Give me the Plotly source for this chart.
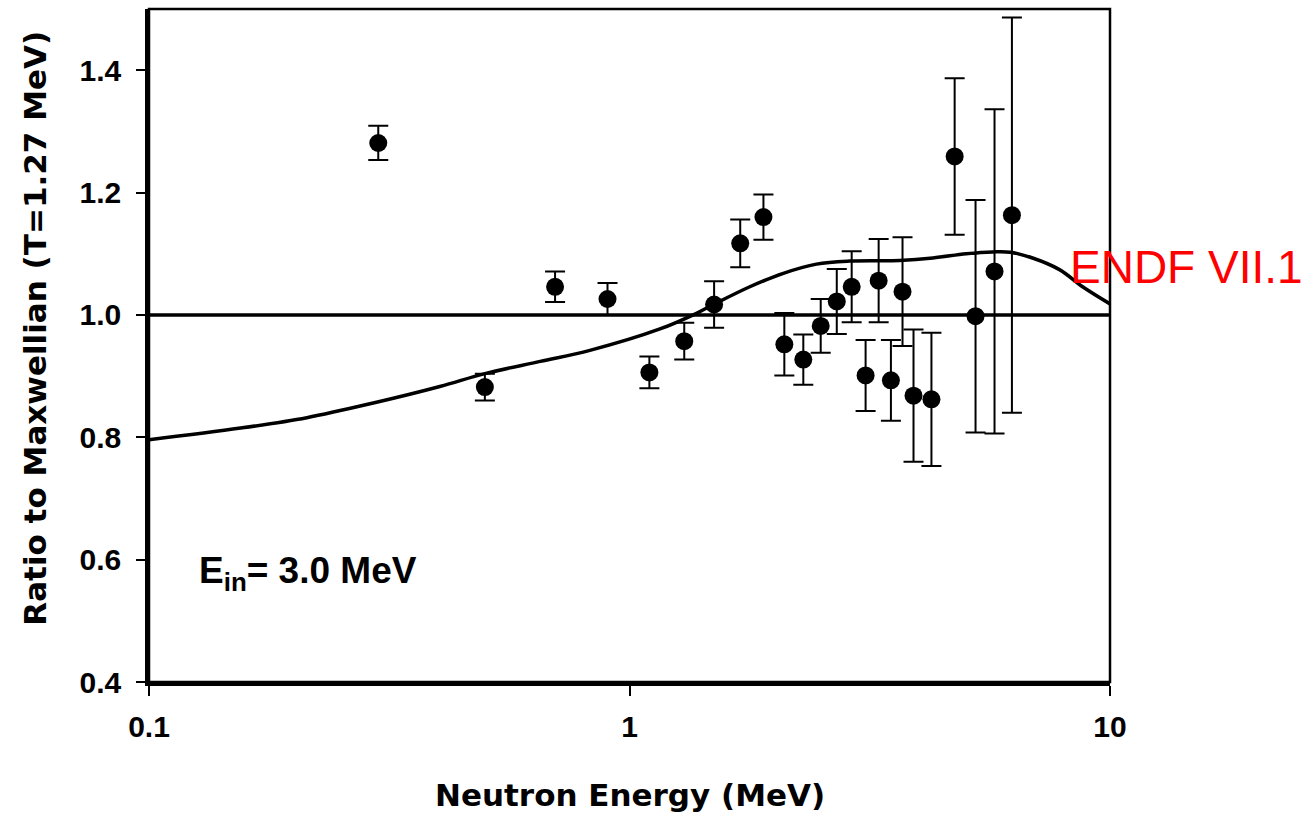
import plotly.graph_objects as go

# Measured data (Neutron energy in MeV, ratio to Maxwellian T=1.27 MeV)
energy = [0.3, 0.5, 0.7, 0.9, 1.1, 1.3, 1.5, 1.7, 1.9, 2.1, 2.3, 2.5, 2.7, 2.9,
          3.1, 3.3, 3.5, 3.7, 3.9, 4.25, 4.75, 5.25, 5.75, 6.25]
ratio = [1.281, 0.882, 1.046, 1.026, 0.906, 0.957, 1.017, 1.117, 1.160, 0.952,
         0.927, 0.982, 1.022, 1.046, 0.901, 1.056, 0.893, 1.038, 0.868, 0.862,
         1.259, 0.998, 1.071, 1.163]
ratio_err = [0.028, 0.022, 0.025, 0.026, 0.026, 0.030, 0.038, 0.039, 0.037, 0.051,
             0.041, 0.044, 0.053, 0.058, 0.058, 0.068, 0.066, 0.089, 0.108, 0.109,
             0.128, 0.190, 0.265, 0.323]

# ENDF/B-VII.1 ratio curve
endf_e = [0.1, 0.155, 0.213, 0.293, 0.403, 0.5, 0.652, 0.827, 1.157, 1.382, 1.5,
          1.78, 2.09, 2.45, 2.87, 3.65, 4.28, 5.02, 5.7, 6.2, 6.9, 7.85, 8.77, 10.0]
endf_r = [0.796, 0.815, 0.832, 0.856, 0.883, 0.904, 0.924, 0.942, 0.977, 1.003, 1.0175,
          1.046, 1.068, 1.083, 1.088, 1.089, 1.093, 1.100, 1.103, 1.1025, 1.093, 1.074,
          1.046, 1.018]

# Unity reference line
unity_e = [0.1, 10.0]
unity_r = [1.0, 1.0]

x_ticks = [0.1, 1, 10]
x_tick_text = ["0.1", "1", "10"]
y_ticks = [0.4, 0.6, 0.8, 1.0, 1.2, 1.4]
y_tick_text = ["0.4", "0.6", "0.8", "1.0", "1.2", "1.4"]

FONT = "Liberation Sans, Arial, sans-serif"
TITLE_FONT = "DejaVu Sans, Liberation Sans, sans-serif"

fig = go.Figure()

fig.add_trace(go.Scatter(x=unity_e, y=unity_r, mode="lines",
                         line=dict(color="black", width=3.5), hoverinfo="skip",
                         showlegend=False))
fig.add_trace(go.Scatter(x=endf_e, y=endf_r, mode="lines",
                         line=dict(color="black", width=3.5, shape="spline"),
                         showlegend=False))
fig.add_trace(go.Scatter(x=energy, y=ratio, mode="markers",
                         marker=dict(color="black", size=18, symbol="circle"),
                         error_y=dict(type="data", array=ratio_err, visible=True,
                                      color="black", thickness=2, width=10),
                         showlegend=False))

fig.update_layout(
    width=1315, height=815,
    margin=dict(l=149, r=205, t=9, b=133),
    paper_bgcolor="white", plot_bgcolor="white",
    font=dict(family=FONT, color="black"),
    xaxis=dict(type="log", range=[-1, 1], tickvals=x_ticks, ticktext=x_tick_text,
               ticks="outside", ticklen=10, tickwidth=2, tickcolor="black",
               showline=True, linewidth=3.5, linecolor="black",
               showgrid=False, zeroline=False, ticklabelstandoff=5,
               tickfont=dict(family=FONT, size=30, color="black", weight="bold")),
    yaxis=dict(range=[0.4, 1.5], tickvals=y_ticks, ticktext=y_tick_text,
               ticks="outside", ticklen=9, tickwidth=2, tickcolor="black",
               showline=True, linewidth=3.5, linecolor="black",
               showgrid=False, zeroline=False, ticklabelstandoff=9,
               tickfont=dict(family=FONT, size=30, color="black", weight="bold")),
    shapes=[dict(type="rect", xref="paper", yref="paper", x0=0, x1=1, y0=0, y1=1,
                 line=dict(color="black", width=2.5), layer="above")],
    annotations=[
        dict(text="Neutron Energy (MeV)", xref="paper", yref="paper", x=0.5, y=-0.168,
             xanchor="center", yanchor="middle", showarrow=False,
             font=dict(family=TITLE_FONT, size=31, color="black", weight="bold")),
        dict(text="Ratio to Maxwellian (T=1.27 MeV)", xref="paper", yref="paper",
             x=-0.1186, y=0.525, xanchor="center", yanchor="middle", textangle=-90,
             showarrow=False,
             font=dict(family=TITLE_FONT, size=31, color="black", weight="bold")),
        dict(text="E<sub>in</sub>= 3.0 MeV", xref="paper", yref="paper",
             x=0.0496, y=0.162, xanchor="left", yanchor="middle", showarrow=False,
             font=dict(family=FONT, size=37, color="black", weight="bold")),
        dict(text="ENDF VII.1", xref="paper", yref="paper",
             x=(1068 - 149) / 961, y=(682 - 267) / 673, xanchor="left",
             yanchor="middle", showarrow=False,
             font=dict(family=FONT, size=46, color="red")),
    ],
)

fig.write_html("out.html")
